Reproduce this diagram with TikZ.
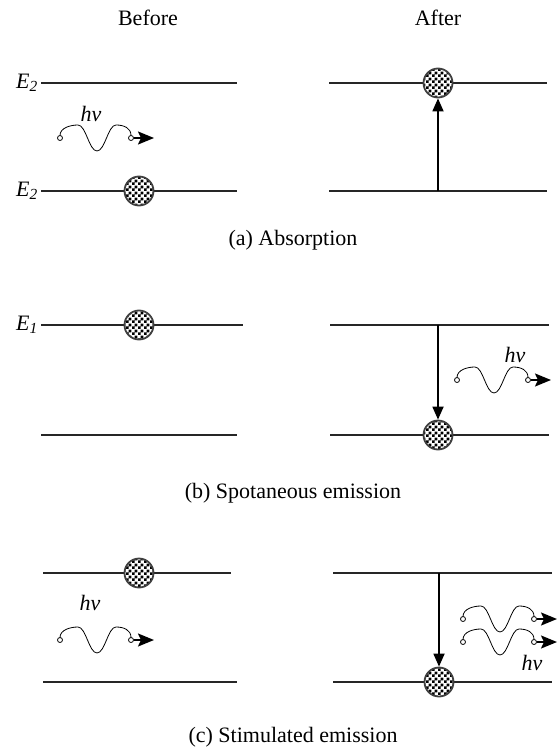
\documentclass[tikz,border=0pt]{standalone}
\usepackage{fontspec}
\setmainfont{Liberation Serif}
\usetikzlibrary{arrows.meta,patterns}
\pgfdeclarepatternformonly{checks}{\pgfpointorigin}{\pgfqpoint{6pt}{6pt}}{\pgfqpoint{6pt}{6pt}}{%
  \pgfpathrectangle{\pgfpointorigin}{\pgfqpoint{3pt}{3pt}}%
  \pgfpathrectangle{\pgfqpoint{3pt}{3pt}}{\pgfqpoint{3pt}{3pt}}%
  \pgfusepath{fill}}
\begin{document}
\begin{tikzpicture}[x=1pt,y=-1pt,
  level/.style={draw=black!85, line width=1.3pt},
  ball/.style={circle, minimum size=29pt, inner sep=0pt, preaction={fill=white}, pattern=checks, draw=black!75, line width=1.8pt},
  trans/.style={line width=1.8pt, -{Triangle[width=11pt,length=13pt]}},
  lbl/.style={font=\fontsize{22}{26}\selectfont, inner sep=0pt},
  photon/.pic={
    \draw[line width=0.8pt] (0,-2.5) .. controls (0,-10) and (10,-13) .. (18,-13)
      .. controls (26,-13) and (29,13) .. (37,13)
      .. controls (45,13) and (48,-13) .. (56,-13)
      .. controls (64,-13) and (71,-10) .. (71,-2.5);
    \draw[line width=0.8pt, fill=white] (0,0) circle (2.5) (71,0) circle (2.5);
    \draw[line width=1.8pt, -{Stealth[length=16pt,width=13pt,inset=3pt]}] (73.5,0) -- (94,0);
  }]
\useasboundingbox (0,0) rectangle (558,749);

% headers
\node[lbl] (before) at (148,18) {Before};
\node[lbl] (after) at (438,18) {After};

% (a) Absorption
\draw[level] (41,83) -- (237,83);
\draw[level] (41,191) -- (237,191);
\node[lbl, anchor=east] (ea1) at (38,83) {\textit{E}\textsubscript{\textit{2}}};
\node[lbl, anchor=east] (ea2) at (38,191) {\textit{E}\textsubscript{\textit{2}}};
\pic (pa) at (60,138) {photon};
\node[lbl] (hva) at (91,114) {\textit{hν}};
\node[ball] (ballaB) at (139,191) {};
\draw[level] (329,83) -- (547,83);
\draw[level] (329,191) -- (547,191);
\coordinate (sa) at (438,191);
\node[ball] (ballaA) at (438,83) {};
\draw[trans] (sa) -- (ballaA.south);
\node[lbl] (capa) at (293,240) {(a) Absorption};

% (b) Spontaneous emission
\draw[level] (41,325) -- (243,325);
\draw[level] (41,435) -- (237,435);
\node[lbl, anchor=east] (eb1) at (38,325) {\textit{E}\textsubscript{\textit{1}}};
\node[ball] (ballbB) at (139,325) {};
\draw[level] (330,325) -- (549,325);
\draw[level] (330,435) -- (549,435);
\coordinate (sb) at (438,325);
\node[ball] (ballbA) at (438,435) {};
\draw[trans] (sb) -- (ballbA.north);
\pic (pb) at (457,380) {photon};
\node[lbl] (hvb) at (515,355) {\textit{hν}};
\node[lbl] (capb) at (293,493) {(b) Spotaneous emission};

% (c) Stimulated emission
\draw[level] (43,573) -- (231,573);
\draw[level] (43,682) -- (237,682);
\node[ball] (ballcB) at (139,573) {};
\pic (pc) at (60,640) {photon};
\node[lbl] (hvc) at (90,603) {\textit{hν}};
\draw[level] (333,573) -- (552,573);
\draw[level] (333,682) -- (552,682);
\coordinate (sc) at (439,573);
\node[ball] (ballcA) at (439,682) {};
\draw[trans] (sc) -- (ballcA.north);
\pic (pc1) at (463,619) {photon};
\pic (pc2) at (463,642) {photon};
\node[lbl] (hvc2) at (532,663) {\textit{hν}};
\node[lbl] (capc) at (293,737) {(c) Stimulated emission};
\end{tikzpicture}
\end{document}
